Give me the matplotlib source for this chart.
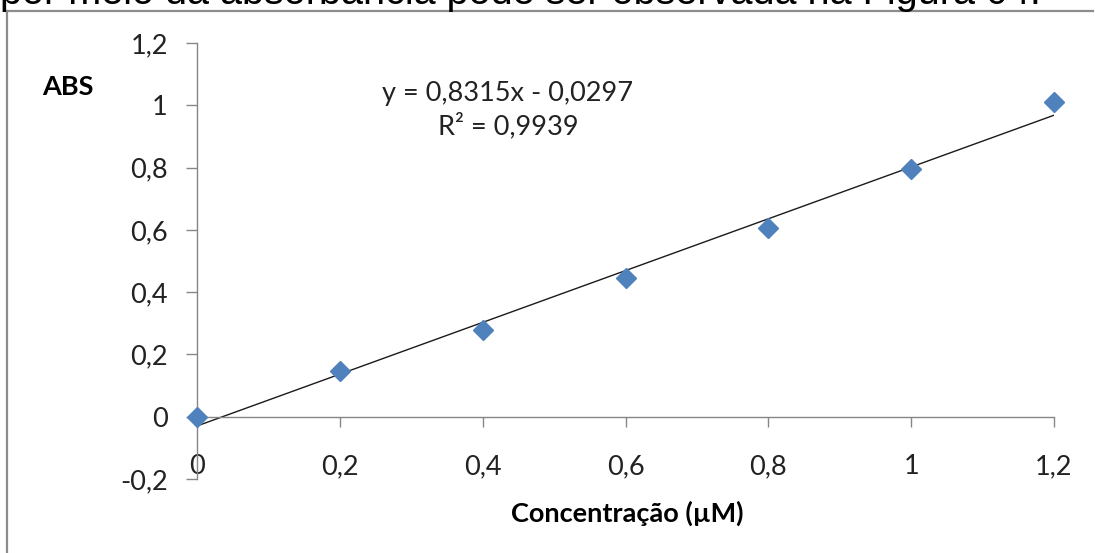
import matplotlib
matplotlib.use("Agg")
import matplotlib.pyplot as plt
from matplotlib.lines import Line2D
import numpy as np

# Data
conc = [0.0, 0.2, 0.4, 0.6, 0.8, 1.0, 1.2]
abs_vals = [0.0, 0.146, 0.280, 0.444, 0.606, 0.797, 1.010]
slope = 0.8315
intercept = -0.0297
xticks = [0, 0.2, 0.4, 0.6, 0.8, 1.0, 1.2]
xticklabels = ["0", "0,2", "0,4", "0,6", "0,8", "1", "1,2"]
yticks = [-0.2, 0, 0.2, 0.4, 0.6, 0.8, 1.0, 1.2]
yticklabels = ["-0,2", "0", "0,2", "0,4", "0,6", "0,8", "1", "1,2"]
eq_text = "y = 0,8315x - 0,0297\nR² = 0,9939"
top_text = "por meio da absorbância pode ser observada na Figura 04."

W, H = 1095, 553
fig = plt.figure(figsize=(W / 100, H / 100), dpi=100)
plt.rcParams['font.family'] = ['Lato', 'DejaVu Sans']

def px(x, y):
    return x / W, 1 - y / H

# Frame of the screenshot
gray = "#8c8c8c"
fig.add_artist(Line2D([6 / W, 1093 / W], [1 - 11 / H, 1 - 11 / H], color=gray, lw=1.6, transform=fig.transFigure))
fig.add_artist(Line2D([7 / W, 7 / W], [1 - 11 / H, 0], color=gray, lw=1.6, transform=fig.transFigure))

# Clipped text line at the top
fig.text(0.0, 1 - 4 / H, top_text, family="Liberation Sans", fontsize=28.5, va="baseline", ha="left", color="black")

left, right = 197 / W, 1054 / W
bottom, top = 1 - 479 / H, 1 - 43 / H
ax = fig.add_axes([left, bottom, right - left, top - bottom])
ax.set_xlim(0, 1.2)
ax.set_ylim(-0.2, 1.2)

axis_col = "#868686"
for s in ["top", "right"]:
    ax.spines[s].set_visible(False)
ax.spines["left"].set_color(axis_col)
ax.spines["bottom"].set_color(axis_col)
ax.spines["bottom"].set_position(("data", 0))
ax.spines["left"].set_linewidth(1.0)
ax.spines["bottom"].set_linewidth(1.0)

ax.set_xticks(xticks)
ax.set_xticklabels(xticklabels)
ax.set_yticks(yticks)
ax.set_yticklabels(yticklabels)
ax.tick_params(axis="x", direction="out", length=7, width=1.0, color=axis_col, pad=20, labelsize=19.5, labelcolor="#222222")
ax.tick_params(axis="y", direction="out", length=8, width=1.0, color=axis_col, pad=13, labelsize=19.5, labelcolor="#222222")

# Trendline
xl = np.array([conc[0], conc[-1]])
ax.plot(xl, slope * xl + intercept, color="#1a1a1a", lw=1.0, zorder=2)

# Data points
ax.plot(conc, abs_vals, linestyle="none", marker="D", markersize=10.5, color="#4F81BD", markeredgecolor="#4F81BD", zorder=3, clip_on=False)

# Equation
fig.text(*px(508, 110), eq_text, ha="center", va="center", fontsize=19.5, linespacing=1.3, color="#222222")

# Axis titles
fig.text(*px(68, 87), "ABS", ha="center", va="center", fontsize=19.5, fontweight="bold", color="black")
fig.text(*px(627, 513), "Concentração (µM)", ha="center", va="center", fontsize=19.5, fontweight="bold", color="black")

fig.savefig("out.png", dpi=100)
